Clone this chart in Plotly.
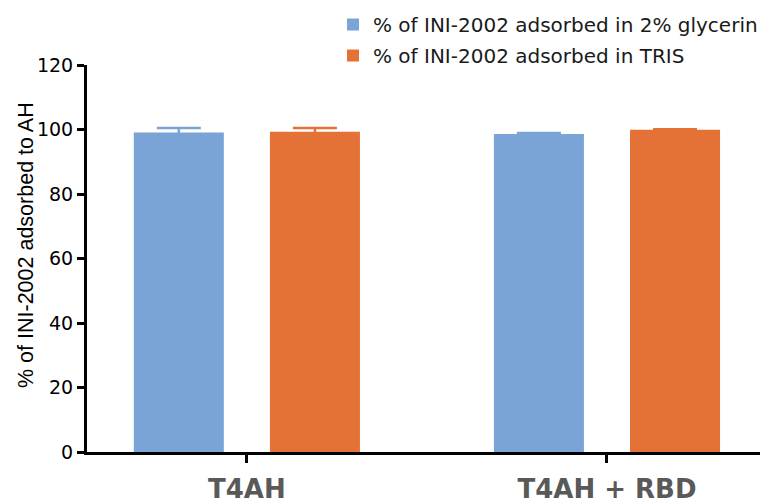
import plotly.graph_objects as go

categories = ["T4AH", "T4AH + RBD"]
glycerin_values = [99.1, 98.6]
glycerin_err = [1.4, 0.3]
tris_values = [99.3, 99.9]
tris_err = [1.2, 0.2]
series_names = ["% of INI-2002 adsorbed in 2% glycerin", "% of INI-2002 adsorbed in TRIS"]
y_ticks = [0, 20, 40, 60, 80, 100, 120]
y_title = "% of INI-2002 adsorbed to AH"

blue = "#79a4d5"
orange = "#e47236"

fig = go.Figure()
fig.add_trace(go.Bar(
    x=categories, y=glycerin_values, name=series_names[0],
    marker=dict(color=blue, line=dict(width=0)),
    width=0.25, offset=-0.314,
    error_y=dict(type="data", array=glycerin_err, visible=True, color=blue, thickness=2.5, width=22),
    legendgroup="a",
))
fig.add_trace(go.Bar(
    x=categories, y=tris_values, name=series_names[1],
    marker=dict(color=orange, line=dict(width=0)),
    width=0.25, offset=0.064,
    error_y=dict(type="data", array=tris_err, visible=True, color=orange, thickness=2.5, width=22),
    legendgroup="b",
))

fig.update_layout(
    width=760, height=503,
    margin=dict(l=87, r=0, t=65, b=51, autoexpand=False),
    plot_bgcolor="white", paper_bgcolor="white",
    barmode="overlay",
    showlegend=True,
    legend=dict(
        x=0.3655, y=1.155, xanchor="left", yanchor="top",
        font=dict(family="DejaVu Sans", size=20, color="#1a1a1a"),
        traceorder="grouped", tracegroupgap=2,
        itemwidth=30, bgcolor="rgba(0,0,0,0)",
    ),
    xaxis=dict(
        range=[-0.444, 1.425],
        showline=True, linecolor="black", linewidth=3,
        ticks="outside", ticklen=8, tickwidth=3, tickcolor="black",
        tickfont=dict(family="DejaVu Sans", size=26, color="#595959", weight="bold"),
        ticklabelstandoff=4,
        showgrid=False, zeroline=False, automargin=False,
    ),
    yaxis=dict(
        range=[0, 120], tickvals=y_ticks,
        showline=True, linecolor="black", linewidth=3,
        ticks="outside", ticklen=7, tickwidth=3, tickcolor="black",
        tickfont=dict(family="DejaVu Sans", size=19, color="black"),
        showgrid=False, zeroline=False, automargin=False,
    ),
    annotations=[dict(
        text=y_title, textangle=-90, showarrow=False,
        xref="paper", yref="paper", x=-0.0906, y=0.535,
        xanchor="center", yanchor="middle",
        font=dict(family="Liberation Sans, Arial", size=21.5, color="black"),
    )],
)

fig.write_html(
    "out.html",
    config={"displayModeBar": False},
    post_script="document.body.style.margin='0';document.body.style.padding='0';document.body.style.overflow='hidden';",
)
